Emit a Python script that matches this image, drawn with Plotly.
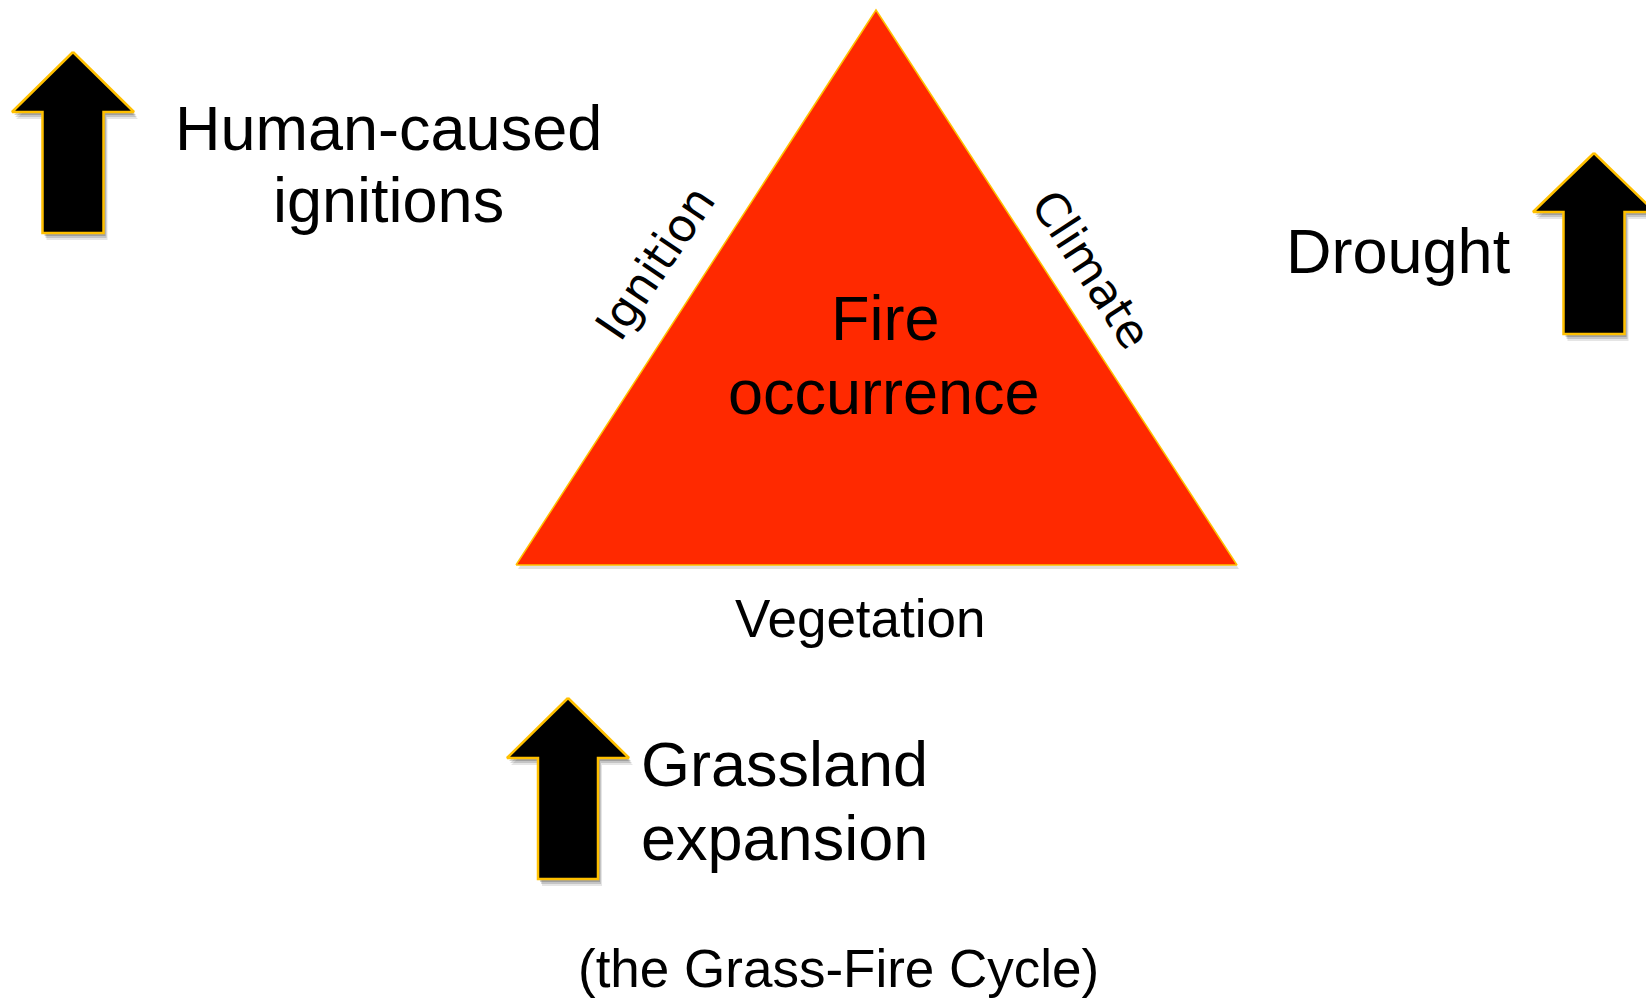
import plotly.graph_objects as go

# ---- diagram data (pixel space of a 1646x999 canvas, y grows downward) ----
triangle_x = [516, 876, 1237]
triangle_y = [565, 10, 565]

# arrows: centre x, tip y, head-base y, bottom y, head half-width, shaft half-width
arrow_cx = [73, 1594, 568]
arrow_tip_y = [52, 153, 698]
arrow_head_y = [112, 212, 758]
arrow_bottom_y = [233, 334, 879]
arrow_head_half = [61, 61, 61]
arrow_shaft_half = [30.5, 30.5, 30]

# labels
main_labels = ["Human-caused", "ignitions", "Drought", "Fire", "occurrence",
               "Grassland", "expansion"]
main_x = [388, 388, 1398, 885, 884, 639, 639]
main_y = [128, 200, 251, 318, 392, 764, 838]
main_anchor = ["center", "center", "center", "center", "center", "left", "left"]

small_labels = ["Vegetation", "(the Grass-Fire Cycle)"]
small_x = [860, 838]
small_y = [618, 968]

side_labels = ["Ignition", "Climate"]
side_x = [655, 1091]
side_y = [263, 269]
side_angle = [-56, 57]

FILL_RED = "#FF2900"
GOLD = "#FFC000"

fig = go.Figure()

# triangle shadow
fig.add_trace(go.Scatter(
    x=[v + 2 for v in triangle_x] + [triangle_x[0] + 2],
    y=[v + 4 for v in triangle_y] + [triangle_y[0] + 4],
    mode="lines", fill="toself", fillcolor="rgba(0,0,0,0.12)",
    line=dict(width=0, color="rgba(0,0,0,0)"), hoverinfo="skip", showlegend=False))
# triangle
fig.add_trace(go.Scatter(
    x=triangle_x + [triangle_x[0]], y=triangle_y + [triangle_y[0]],
    mode="lines", fill="toself", fillcolor=FILL_RED,
    line=dict(width=1.5, color=GOLD), hoverinfo="skip", showlegend=False))


def arrow_poly(cx, ty, hy, by, hh, sh):
    xs = [cx, cx + hh, cx + sh, cx + sh, cx - sh, cx - sh, cx - hh, cx]
    ys = [ty, hy, hy, by, by, hy, hy, ty]
    return xs, ys


for i in range(len(arrow_cx)):
    xs, ys = arrow_poly(arrow_cx[i], arrow_tip_y[i], arrow_head_y[i],
                        arrow_bottom_y[i], arrow_head_half[i], arrow_shaft_half[i])
    for dx, dy, a in [(4, 7, 0.10), (3, 5, 0.14), (2, 3, 0.18)]:
        fig.add_trace(go.Scatter(
            x=[v + dx for v in xs], y=[v + dy for v in ys],
            mode="lines", fill="toself", fillcolor=f"rgba(0,0,0,{a})",
            line=dict(width=0, color="rgba(0,0,0,0)"),
            hoverinfo="skip", showlegend=False))
    fig.add_trace(go.Scatter(
        x=xs, y=ys, mode="lines", fill="toself", fillcolor="black",
        line=dict(width=2.5, color=GOLD), hoverinfo="skip", showlegend=False))

MAIN_FONT = "Liberation Sans, Arial, Helvetica, sans-serif"

for t, x, y, a in zip(main_labels, main_x, main_y, main_anchor):
    fig.add_annotation(x=x, y=y, text=t, showarrow=False, xanchor=a, yanchor="middle",
                       font=dict(family=MAIN_FONT, size=63, color="black"))

for t, x, y in zip(small_labels, small_x, small_y):
    fig.add_annotation(x=x, y=y, text=t, showarrow=False, xanchor="center", yanchor="middle",
                       font=dict(family=MAIN_FONT, size=53, color="black"))

for t, x, y, ang in zip(side_labels, side_x, side_y, side_angle):
    fig.add_annotation(x=x, y=y, text=t, showarrow=False, xanchor="center", yanchor="middle",
                       textangle=ang,
                       font=dict(family="DejaVu Sans, sans-serif", size=46, color="black"))

fig.update_layout(
    width=1646, height=999,
    margin=dict(l=0, r=0, t=0, b=0, pad=0),
    paper_bgcolor="white", plot_bgcolor="white",
    xaxis=dict(range=[0, 1646], visible=False, fixedrange=True),
    yaxis=dict(range=[999, 0], visible=False, fixedrange=True),
    showlegend=False,
)

fig.write_html("out.html", config={"displayModeBar": False},
               post_script="document.body.style.margin='0';document.body.style.overflow='hidden';")
